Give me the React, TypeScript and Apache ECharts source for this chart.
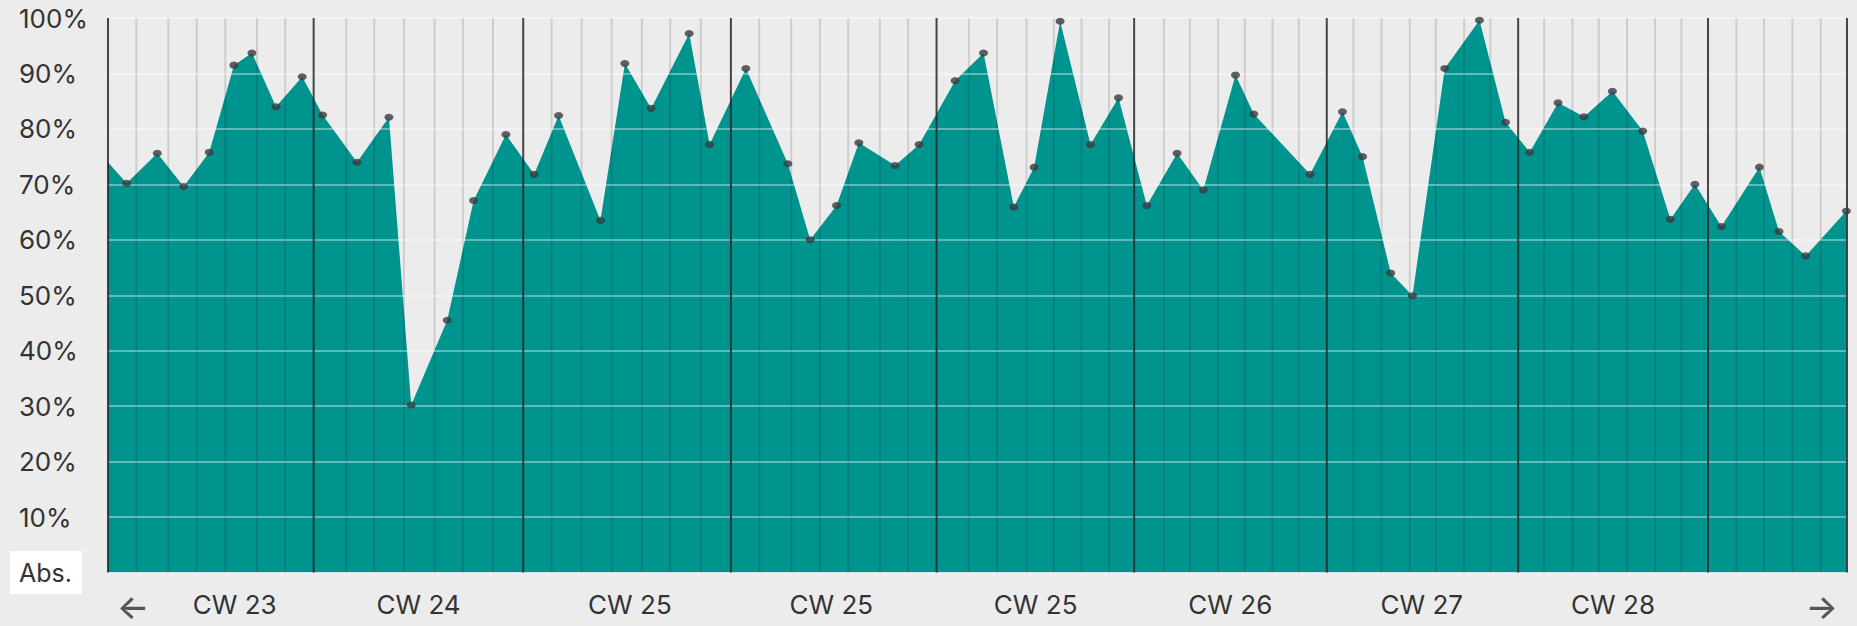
import React, { useEffect, useRef } from "react";
import * as echarts from "echarts";

// x positions in days from the left edge of the chart
const sampleDay = [
  0, 0.656, 1.729, 2.655, 3.553, 4.419, 5.05, 5.892, 6.814, 7.53, 8.733, 9.855,
  10.637, 11.9, 12.826, 13.958, 14.951, 15.807, 17.273, 18.132, 19.054, 20.387,
  21.103, 22.376, 23.849, 24.631, 25.557, 26.339, 27.612, 28.454, 29.716, 30.712,
  31.775, 32.487, 33.399, 34.465, 35.447, 36.44, 37.502, 38.421, 39.55, 40.192,
  42.167, 43.303, 44.008, 44.997, 45.758, 46.891, 48.108, 49.023, 49.872, 50.865,
  51.777, 52.772, 53.835, 54.806, 55.666, 56.595, 57.928, 58.616, 59.552, 60.979,
];
// utilisation in percent
const utilisation = [
  74.0, 70.2, 75.6, 69.6, 75.8, 91.5, 93.7, 84.0, 89.4, 82.5, 74.0, 82.1,
  30.2, 45.5, 67.1, 79.0, 71.8, 82.4, 63.5, 91.8, 83.7, 97.2,
  77.2, 90.9, 73.7, 60.0, 66.2, 77.5, 73.4, 77.2, 88.7, 93.7,
  65.9, 73.1, 99.4, 77.2, 85.6, 66.2, 75.6, 69.0, 89.7, 82.7,
  71.8, 83.1, 75.0, 54.0, 49.9, 90.9, 99.6, 81.2, 75.8, 84.7,
  82.2, 86.8, 79.6, 63.7, 70.0, 62.4, 73.1, 61.5, 57.1, 65.2,
];
// week boundaries (days)
const weekStart = [0, 7.214, 14.565, 21.85, 29.064, 35.994, 42.752, 49.465, 56.125, 61.0];
// day boundaries (days)
const dayLines = [
  0.993, 2.115, 3.111, 4.114, 5.226, 6.218,
  8.358, 9.34, 10.381, 11.458, 12.45, 13.503,
  15.561, 16.614, 17.666, 18.728, 19.721, 20.797,
  22.842, 23.965, 24.971, 25.964, 27.075, 28.068,
  30.197, 31.189, 32.22, 33.178, 34.149, 35.117,
  37.036, 37.948, 38.94, 39.877, 40.848, 41.77,
  43.689, 44.671, 45.663, 46.575, 47.568, 48.494,
  50.374, 51.369, 52.292, 53.284, 54.267, 55.192,
  57.121, 58.089, 59.085, 60.078,
];
const xLabels = ["←", "CW 23", "CW 24", "CW 25", "CW 25", "CW 25", "CW 26", "CW 27", "CW 28", "→"];
const xLabelAt = [0.877, 4.444, 10.893, 18.307, 25.374, 32.54, 39.368, 46.084, 52.794, 60.113];
const yLabels = ["Abs.", "10%", "20%", "30%", "40%", "50%", "60%", "70%", "80%", "90%", "100%"];

const FONT = "Inter";
const TEAL = "#00948f";

export default function App() {
  const ref = useRef<HTMLDivElement>(null);

  useEffect(() => {
    document.body.style.margin = "0";
    document.body.style.background = "#ececec";
    const chart = echarts.init(ref.current!, null, { renderer: "svg" });

    const points = sampleDay.map((d, i) => [d, utilisation[i]]);
    const lineRender = (color: string, width: number) => (params: any, api: any) => {
      const x = api.value(0);
      const p0 = api.coord([x, 0]);
      const p1 = api.coord([x, 100]);
      return {
        type: "line",
        shape: { x1: p0[0], y1: p0[1], x2: p1[0], y2: p1[1] },
        style: { stroke: color, lineWidth: width },
      };
    };

    chart.setOption({
      animation: false,
      backgroundColor: "#ececec",
      grid: { left: 108, right: 10, top: 18, bottom: 53.5 },
      xAxis: {
        type: "value",
        min: 0,
        max: 61,
        axisLine: { show: false },
        axisTick: { show: false },
        splitLine: { show: false },
        axisLabel: {
          customValues: xLabelAt,
          margin: 19,
          fontFamily: FONT,
          fontSize: 26,
          color: "#333",
          formatter: (v: number) => {
            let idx = 0;
            let best = Infinity;
            xLabelAt.forEach((p, i) => {
              const dd = Math.abs(p - v);
              if (dd < best) { best = dd; idx = i; }
            });
            const t = xLabels[idx];
            return idx === 0 || idx === xLabels.length - 1 ? `{arrow|${t}}` : t;
          },
          rich: {
            arrow: { fontFamily: FONT, fontSize: 34, fontWeight: 500, color: "#555", lineHeight: 30 },
          },
        },
      },
      yAxis: {
        type: "value",
        min: 0,
        max: 100,
        interval: 10,
        z: 4,
        axisLine: { show: false },
        axisTick: { show: false },
        splitLine: { lineStyle: { color: "rgba(255,255,255,0.5)", width: 1.5 } },
        axisLabel: {
          align: "left",
          margin: 98,
          formatter: (v: number) => {
            const t = yLabels[Math.round(v / 10)];
            return v === 0 ? `{abs|${t}}` : `{n|${t}}`;
          },
          rich: {
            n: { fontFamily: FONT, fontSize: 26, color: "#333", padding: [0, 0, 0, 9] },
            abs: {
              fontFamily: FONT,
              fontSize: 25,
              color: "#333",
              backgroundColor: "#ffffff",
              padding: [9, 10, 9, 9],
              lineHeight: 22,
            },
          },
        },
      },
      series: [
        {
          type: "line",
          data: points,
          showSymbol: false,
          symbol: "none",
          lineStyle: { width: 0 },
          areaStyle: { color: TEAL, opacity: 1 },
          z: 2,
        },
        {
          type: "custom",
          data: dayLines.map((d) => [d, 100]),
          encode: { x: 0, y: 1 },
          renderItem: lineRender("rgba(0,0,0,0.13)", 2),
          z: 3,
          silent: true,
        },
        {
          type: "custom",
          data: weekStart.map((d) => [d, 100]),
          encode: { x: 0, y: 1 },
          renderItem: lineRender("rgba(40,40,45,0.85)", 2),
          z: 5,
          silent: true,
        },
        {
          type: "scatter",
          data: points.map((p, i) => (i === 0 ? { value: p, symbol: "none" } : { value: p })),
          symbol: "circle",
          symbolSize: [9, 7],
          itemStyle: { color: "#3b3b40" },
          z: 6,
          silent: true,
        },
      ],
    });

    return () => chart.dispose();
  }, []);

  return <div ref={ref} style={{ width: 1857, height: 626 }} />;
}
